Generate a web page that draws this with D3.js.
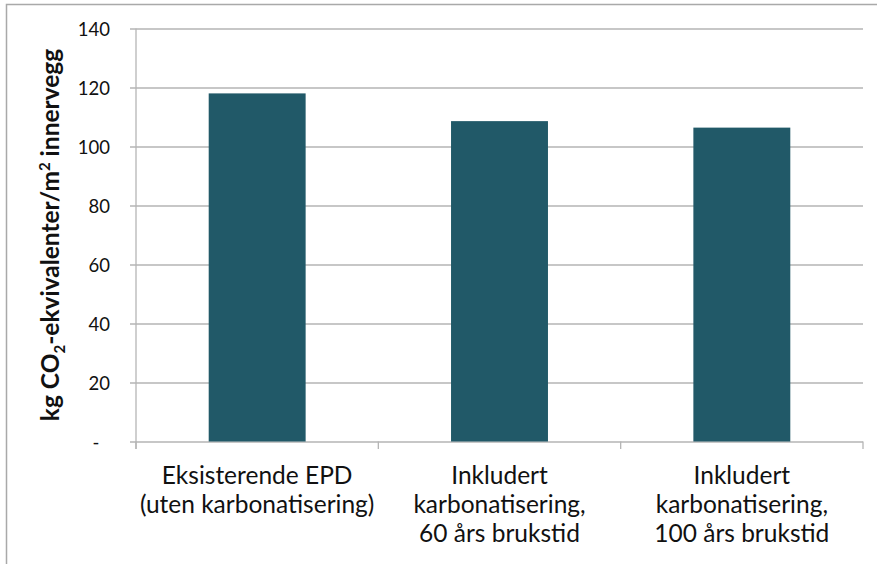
<!DOCTYPE html>
<html>
<head>
<meta charset="utf-8">
<script src="https://cdn.jsdelivr.net/npm/d3@7"></script>
<style>
  html, body { margin: 0; padding: 0; background: #fff; }
  svg { display: block; }
  text { font-family: Lato, "Open Sans", sans-serif; fill: #111; }
</style>
</head>
<body>
<svg id="chart" width="877" height="564"></svg>
<script>
// Category labels (one entry per line)
const categories = [
  ["Eksisterende EPD", "(uten karbonatisering)"],
  ["Inkludert", "karbonatisering,", "60 års brukstid"],
  ["Inkludert", "karbonatisering,", "100 års brukstid"]
];
// kg CO2-equivalents per m² interior wall
const values = [118.0, 108.6, 106.4];
const tickValues = [0, 20, 40, 60, 80, 100, 120, 140];
const tickLabels = ["-\u2007", "20", "40", "60", "80", "100", "120", "140"];

const svg = d3.select("#chart");
const plot = { left: 136, right: 863, top: 28.5, bottom: 441.5 };

// outer frame, open to the right and bottom
svg.append("rect")
  .attr("x", 6.5).attr("y", 4.5)
  .attr("width", 900).attr("height", 600)
  .attr("fill", "none").attr("stroke", "#a9a9a9").attr("stroke-width", 1.5);

const x = d3.scaleBand()
  .domain(d3.range(categories.length))
  .range([plot.left, plot.right])
  .paddingInner(0.6).paddingOuter(0.3);

const y = d3.scaleLinear().domain([0, 140]).range([plot.bottom, plot.top]);

// horizontal gridlines with y-axis ticks
const yAxis = d3.axisLeft(y)
  .tickValues(tickValues)
  .tickSize(-(plot.right - plot.left) - 6)
  .tickFormat((d, i) => tickLabels[i]);

const gy = svg.append("g")
  .attr("transform", `translate(${plot.right},0)`)
  .call(yAxis);
gy.select(".domain").remove();
gy.selectAll(".tick line")
  .attr("x1", 0)
  .attr("x2", -(plot.right - plot.left) - 6)
  .attr("stroke", "#b5b5b5").attr("stroke-width", 1.3);
gy.selectAll(".tick text")
  .attr("x", -(plot.right - 110))
  .attr("dy", "0.36em")
  .style("font-size", "18.5px")
  .style("font-family", "Lato, sans-serif")
  .attr("fill", "#111");

// y axis line
svg.append("line")
  .attr("x1", plot.left).attr("x2", plot.left)
  .attr("y1", plot.top).attr("y2", plot.bottom + 7.5)
  .attr("stroke", "#b5b5b5").attr("stroke-width", 1.3);

// category boundary ticks
const step = x.step();
const boundaries = d3.range(categories.length + 1).map(i => plot.left + i * step);
svg.selectAll(".cat-tick").data(boundaries).enter().append("line")
  .attr("x1", d => d).attr("x2", d => d)
  .attr("y1", plot.bottom).attr("y2", plot.bottom + 7.5)
  .attr("stroke", "#b5b5b5").attr("stroke-width", 1.3);

// bars
svg.selectAll(".bar").data(values).enter().append("rect")
  .attr("x", (d, i) => x(i))
  .attr("y", d => y(d))
  .attr("width", x.bandwidth())
  .attr("height", d => y(0) - y(d))
  .attr("fill", "#215968");

// category labels
const lab = svg.selectAll(".cat-label").data(categories).enter().append("text")
  .attr("text-anchor", "middle")
  .style("font-size", "24.5px");
lab.selectAll("tspan").data((d, i) => d.map(s => ({ s, i }))).enter().append("tspan")
  .attr("x", d => x(d.i) + x.bandwidth() / 2)
  .attr("y", (d, j) => 484 + j * 29)
  .text(d => d.s);

// y axis title
const title = svg.append("text")
  .attr("transform", `translate(59,${(plot.top + plot.bottom) / 2}) rotate(-90)`)
  .attr("text-anchor", "middle")
  .style("font-size", "24.5px")
  .style("font-weight", "bold");
title.append("tspan").text("kg CO");
title.append("tspan").attr("dy", 6).style("font-size", "15px").text("2");
title.append("tspan").attr("dy", -6).text("-ekvivalenter/m");
title.append("tspan").attr("dy", -9).style("font-size", "15px").text("2");
title.append("tspan").attr("dy", 9).text(" innervegg");
</script>
</body>
</html>
